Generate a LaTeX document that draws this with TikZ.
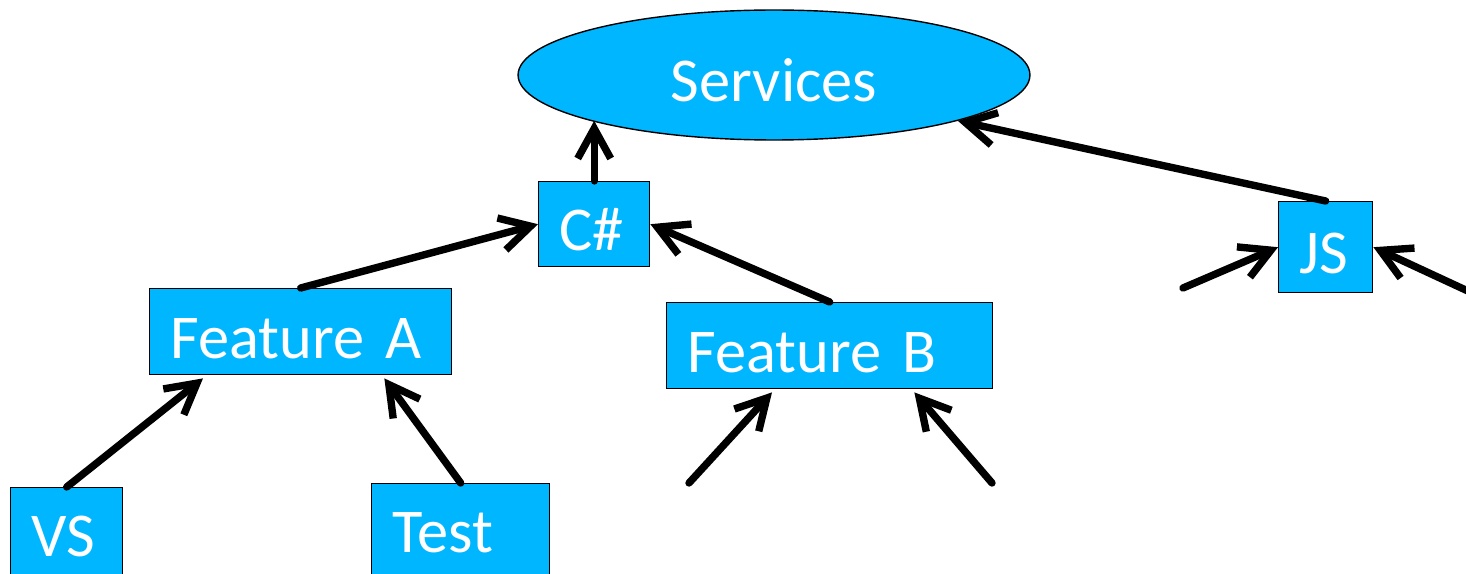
\documentclass[tikz,border=0pt]{standalone}
\usepackage{fontspec}
\setmainfont{Carlito}
\usetikzlibrary{arrows.meta, positioning, shapes.geometric, calc}
\definecolor{boxblue}{RGB}{0,183,255}

\begin{document}
\begin{tikzpicture}[x=0.02cm, y=-0.02cm,
        lbl/.style={text=white, font=\fontsize{35.5}{40}\selectfont, text height=1.06cm, text depth=0pt},
        featbox/.style={lbl, draw, line width=0.8pt, fill=boxblue, anchor=north west, inner xsep=0.42cm, inner ysep=0pt, align=left},
        leafbox/.style={featbox, minimum height=2.2cm, text depth=0.5cm},
        uses/.style={line width=4.2pt, line cap=round, -{Straight Barb[length=0.6cm, width=0.66cm]}}]
        \useasboundingbox (0,0) rectangle (1466,574);
        \clip (0,0) rectangle (1466,574);

        \node[lbl, draw, ellipse, line width=0.8pt, fill=boxblue, minimum width=10.24cm, minimum height=2.6cm, inner sep=0pt] (services) at (774,75) {Services};
        \node[featbox, text width=1.38cm, minimum height=1.7cm] (csharp) at (538,181) {C\#};
        \node[featbox, text width=5.2cm, minimum height=1.72cm] (featA) at (149,288) {Feature A};
        \node[featbox, text width=5.68cm, minimum height=1.72cm] (featB) at (666,302) {Feature B};
        \node[featbox, text width=1.04cm, minimum height=1.82cm] (js) at (1278,201) {JS};
        \node[leafbox, text width=1.4cm] (vs) at (10,487) {VS};
        \node[leafbox, text width=2.72cm] (test) at (371,483) {Test};

        \coordinate (inB1) at (689,483);
        \coordinate (inB2) at (992,483);
        \coordinate (inJS1) at (1183,288);
        \coordinate (inJS2) at (1470,292);

        \draw[uses] (csharp.north) -- (csharp.north |- services.194);
        \draw[uses] (js.north) -- (services.346);
        \draw[uses] (featA.north) -- (csharp.west);
        \draw[uses] (featB.north) -- (csharp.east);
        \draw[uses] (vs.north) -- ($(featA.south west)+(54,3)$);
        \draw[uses] (test.north) -- ($(featA.south east)+(-68,3)$);
        \draw[uses] (inB1) -- ($(featB.south west)+(106,3)$);
        \draw[uses] (inB2) -- ($(featB.south east)+(-79,3)$);
        \draw[uses] (inJS1) -- (js.west);
        \draw[uses] (inJS2) -- (js.east);
    \end{tikzpicture}
\end{document}
